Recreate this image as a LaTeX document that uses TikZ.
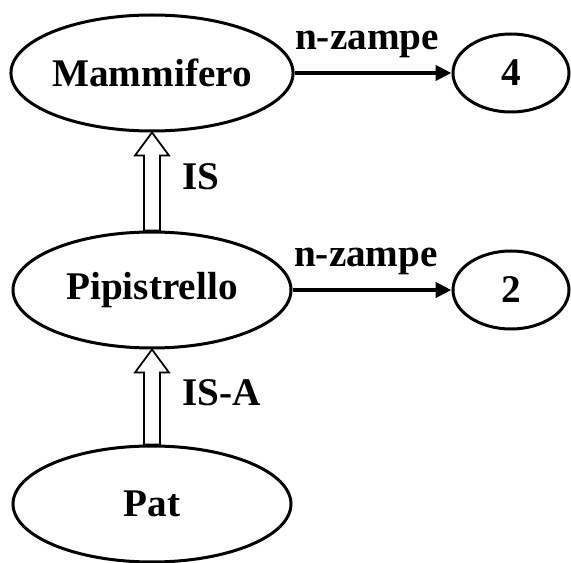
\documentclass[tikz,border=0pt]{standalone}
\usepackage{fontspec}
\setmainfont{Liberation Serif}
\usetikzlibrary{shapes.geometric,arrows.meta,calc,positioning}

\begin{document}
\begin{tikzpicture}[
  concept/.style={draw=black, ellipse, line width=0.06cm, inner sep=0pt, minimum width=5.56cm, minimum height=2.32cm, font=\fontsize{22.3}{26}\selectfont\bfseries},
  value/.style={concept, minimum width=2.32cm, minimum height=1.56cm},
  slot/.style={-{Triangle[length=0.32cm,width=0.3cm]}, line width=0.08cm},
  hollow/.style={draw=black, fill=white, line width=0.035cm, line join=miter},
  lbl/.style={inner sep=0pt, font=\fontsize{22.3}{26}\selectfont\bfseries}
]
\useasboundingbox (0,0) rectangle (11.42,-11.26);
% frames
\node[concept] (mam) at (3.04,-1.46) {Mammifero};
\node[concept] (pip) at (3.04,-5.80) {Pipistrello};
\node[concept] (pat) at (3.04,-10.08) {Pat};
\node[value] (four) at (10.22,-1.46) {4};
\node[value] (two) at (10.22,-5.80) {2};
% slots
\draw[slot] (mam.east) -- (four.west) node[lbl, midway, xshift=-0.12cm, yshift=0.58cm] (zm) {n-zampe};
\draw[slot] (pip.east) -- (two.west) node[lbl, midway, xshift=-0.12cm, yshift=0.58cm] (zp) {n-zampe};
% hierarchy
\draw[hollow] ([xshift=-0.16cm]pip.north) -- ([xshift=-0.16cm,yshift=-0.46cm]mam.south) -- ([xshift=-0.34cm,yshift=-0.46cm]mam.south) -- (mam.south) -- ([xshift=0.34cm,yshift=-0.46cm]mam.south) -- ([xshift=0.16cm,yshift=-0.46cm]mam.south) -- ([xshift=0.16cm]pip.north) -- cycle;
\draw[hollow] ([xshift=-0.16cm]pat.north) -- ([xshift=-0.16cm,yshift=-0.46cm]pip.south) -- ([xshift=-0.34cm,yshift=-0.46cm]pip.south) -- (pip.south) -- ([xshift=0.34cm,yshift=-0.46cm]pip.south) -- ([xshift=0.16cm,yshift=-0.46cm]pip.south) -- ([xshift=0.16cm]pat.north) -- cycle;
\node[lbl, right=0.6cm] (is) at ($(mam.south)!0.45!(pip.north)$) {IS};
\node[lbl, right=0.6cm] (isa) at ($(pip.south)!0.45!(pat.north)$) {IS-A};
\end{tikzpicture}
\end{document}
